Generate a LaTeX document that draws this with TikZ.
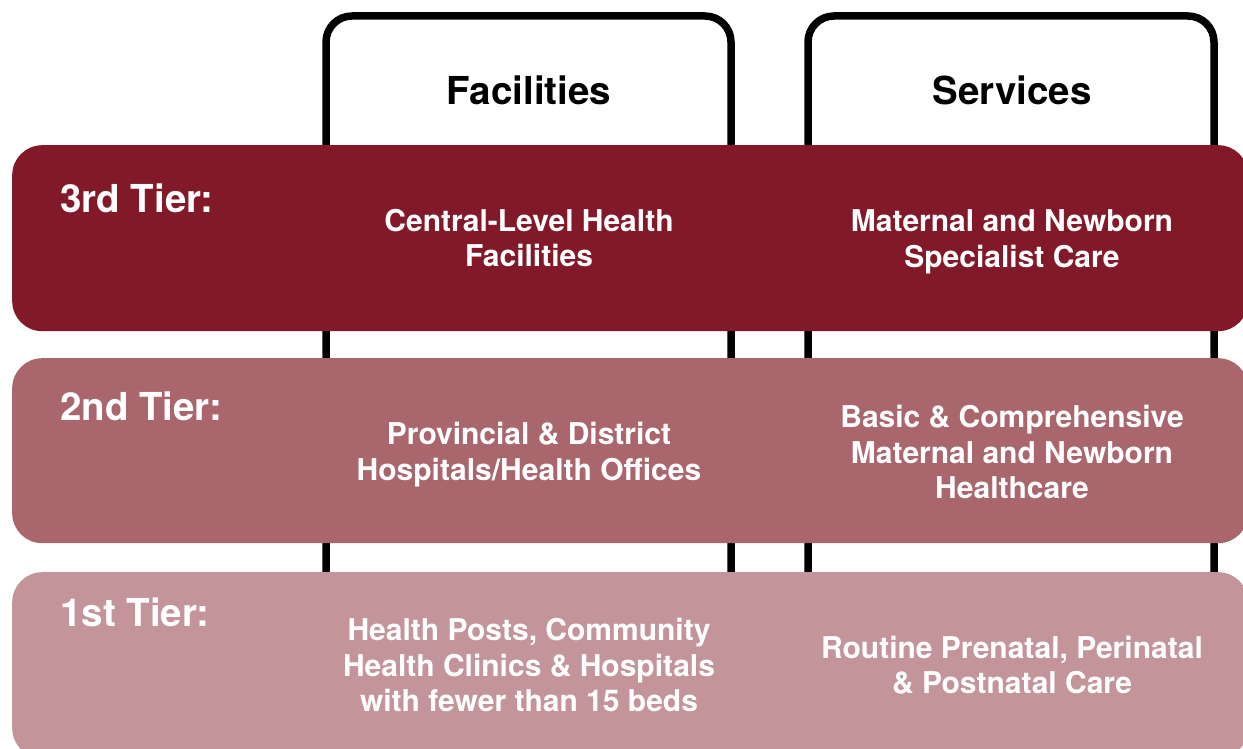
\documentclass[tikz,border=0pt]{standalone}
\usepackage{fontspec}
\setmainfont{TeX Gyre Heros}
\definecolor{tierthree}{HTML}{821928}
\definecolor{tiertwo}{HTML}{A9666D}
\definecolor{tierone}{HTML}{C4949B}
\begin{document}
\begin{tikzpicture}[x=1pt,y=-1pt,
  column/.style={draw=black, line width=7.5pt, rounded corners=26pt},
  band/.style={rounded corners=30pt, inner sep=0pt, anchor=north west,
    minimum width=1236pt, minimum height=186pt},
  head/.style={font=\fontsize{38.5}{44}\selectfont\bfseries, text=black, inner sep=0pt, anchor=base},
  tier/.style={font=\fontsize{38.5}{44}\selectfont\bfseries, text=white, inner sep=0pt, anchor=base west},
  cell/.style={font=\fontsize{30}{35.5}\selectfont\bfseries, text=white, inner sep=0pt, align=center}]
\useasboundingbox (0,0) rectangle (1243,749);
\clip (0,0) rectangle (1243,749);
\fill[white] (0,0) rectangle (1243,749);

% the two column frames, open at the bottom
\draw[column] (326,800) -- (326,16) -- (731,16) -- (731,800);
\draw[column] (808,800) -- (808,16) -- (1214,16) -- (1214,800);
\node[head] (fac) at (529,105) {Facilities};
\node[head] (srv) at (1012,105) {Services};

% tier bands laid over the columns
\node[band, fill=tierthree] (b3) at (12,145) {};
\node[band, fill=tiertwo, minimum height=185pt] (b2) at (12,358) {};
\node[band, fill=tierone] (b1) at (12,572) {};

% tier labels
\node[tier] (l3) at (60,212) {3rd Tier:};
\node[tier] (l2) at (60,420) {2nd Tier:};
\node[tier] (l1) at (60,626) {1st Tier:};

% cell contents
\node[cell] (f3) at (529,238) {Central-Level Health\\Facilities};
\node[cell] (s3) at (1012,242) {Maternal and Newborn\\Specialist Care};
\node[cell] (f2) at (529,454.5) {Provincial \& District\\Hospitals/Health Offices};
\node[cell] (s2) at (1012,452) {Basic \& Comprehensive\\Maternal and Newborn\\Healthcare};
\node[cell] (f1) at (529,665) {Health Posts, Community\\Health Clinics \& Hospitals\\with fewer than 15 beds};
\node[cell] (s1) at (1012,665) {Routine Prenatal, Perinatal\\\& Postnatal Care};
\end{tikzpicture}
\end{document}
